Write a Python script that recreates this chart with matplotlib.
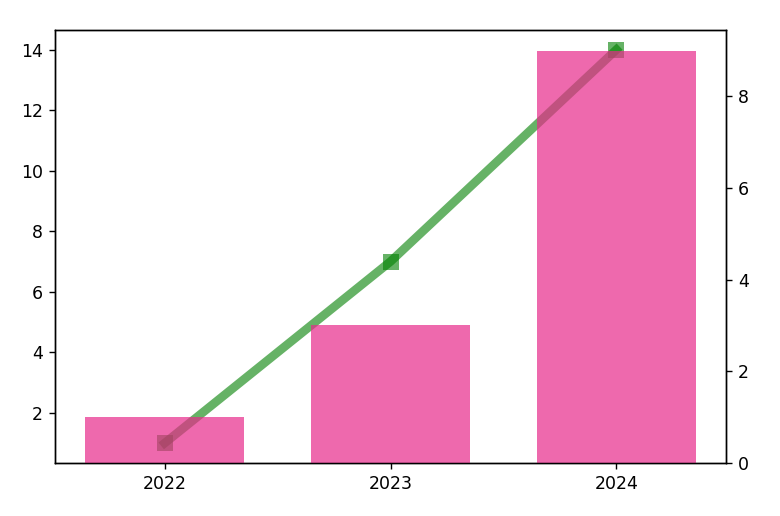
import matplotlib
matplotlib.use('Agg')
import matplotlib.pyplot as plt
import numpy as np

#Chart data
years = ['2022', '2023', '2024']
bar_values = [1, 3, 9]
line_values = [1, 7, 14]

x = np.arange(len(years))

#Figure set up to land at 780x516 px
fig, ax = plt.subplots(figsize=(6.24, 4.128), dpi=125)
fig.subplots_adjust(left=0.0705, right=0.9308, top=0.942, bottom=0.103)

#Line on the left axis
ax.plot(x, line_values, color='green', alpha=0.6, linewidth=5,
        marker='s', markersize=9, markeredgewidth=0)

#Bars on the right axis, drawn over the line
ax2 = ax.twinx()
ax2.bar(x, bar_values, width=0.7, color='#e7298a', alpha=0.7)

ax.set_xticks(x)
ax.set_xticklabels(years)

fig.savefig('out.png')
